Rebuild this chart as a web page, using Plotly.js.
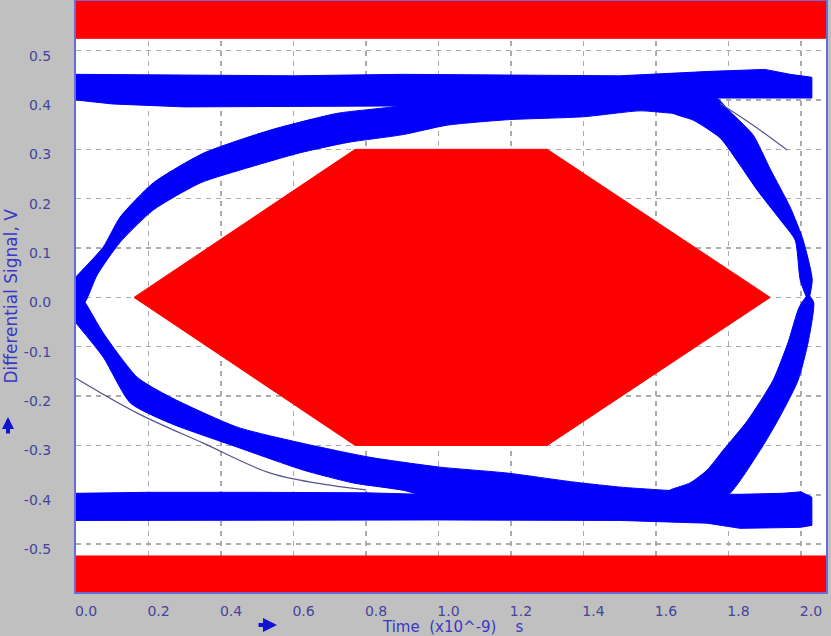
<!DOCTYPE html>
<html>
<head>
<meta charset="utf-8">
<script src="https://cdn.plot.ly/plotly-3.0.1.min.js"></script>
<style>html,body{margin:0;padding:0;background:#c0c0c0;}#chart{width:831px;height:636px;}</style>
</head>
<body>
<div id="chart"></div>
<script>
// ---- Axis ticks ----
const xTickVals = [0, 0.2, 0.4, 0.6, 0.8, 1.0, 1.2, 1.4, 1.6, 1.8, 2.0];
const xTickText = ["0.0", "0.2", "0.4", "0.6", "0.8", "1.0", "1.2", "1.4", "1.6", "1.8", "2.0"];
const yTickVals = [-0.5, -0.4, -0.3, -0.2, -0.1, 0, 0.1, 0.2, 0.3, 0.4, 0.5];
const yTickText = ["-0.5", "-0.4", "-0.3", "-0.2", "-0.1", "0.0", "0.1", "0.2", "0.3", "0.4", "0.5"];

// ---- Mask regions (red) ----
const maskTopX = [0, 2.07, 2.07, 0];
const maskTopY = [0.525, 0.525, 0.61, 0.61];
const maskBotX = [0, 2.07, 2.07, 0];
const maskBotY = [-0.524, -0.524, -0.61, -0.61];
const maskHexX = [0.16, 0.77, 1.30, 1.915, 1.30, 0.77, 0.16];
const maskHexY = [0, 0.3, 0.3, 0, -0.3, -0.3, 0];

// ---- Eye diagram trace envelopes (blue) ----
const topBandX = [0, 0.3, 0.6, 0.9, 1.2, 1.5, 1.75, 1.9, 1.97, 2.03, 2.03, 1.9, 1.77, 1.5, 1.2, 0.9, 0.6, 0.3, 0.1, 0];
const topBandY = [0.452, 0.450, 0.449, 0.452, 0.451, 0.449, 0.458, 0.462, 0.452, 0.446, 0.404, 0.404, 0.404, 0.395, 0.392, 0.388, 0.387, 0.386, 0.392, 0.400];

const riseLeftX = [0, 0.075, 0.122, 0.213, 0.351, 0.536, 0.721, 0.903, 1.0, 1.3, 1.70, 1.70, 1.647, 1.556, 1.4, 1.19, 1.024, 0.903, 0.75, 0.618, 0.48, 0.343, 0.213, 0.122, 0.058, 0.025, 0];
const riseLeftY = [0.042, 0.102, 0.163, 0.232, 0.292, 0.339, 0.373, 0.390, 0.42, 0.42, 0.42, 0.372, 0.373, 0.378, 0.366, 0.360, 0.349, 0.330, 0.314, 0.293, 0.264, 0.232, 0.177, 0.112, 0.045, -0.01, -0.025];

const fallLeftX = [0, 0.025, 0.075, 0.169, 0.26, 0.445, 0.627, 0.811, 1.005, 1.19, 1.371, 1.51, 1.631, 1.70, 1.70, 1.3, 1.0, 0.903, 0.765, 0.627, 0.445, 0.26, 0.15, 0.075, 0];
const fallLeftY = [0.015, -0.01, -0.072, -0.162, -0.202, -0.263, -0.296, -0.324, -0.344, -0.356, -0.374, -0.385, -0.391, -0.395, -0.42, -0.42, -0.41, -0.391, -0.376, -0.35, -0.3035, -0.255, -0.214, -0.121, -0.052];

const bottomBandX = [0, 0.2, 0.5, 0.8, 1.0, 1.3, 1.6, 1.832, 1.95, 2.0, 2.03, 2.03, 1.998, 1.832, 1.741, 1.5, 1.0, 0.5, 0];
const bottomBandY = [-0.397, -0.395, -0.395, -0.396, -0.40, -0.40, -0.40, -0.399, -0.397, -0.394, -0.405, -0.462, -0.466, -0.468, -0.4575, -0.452, -0.451, -0.452, -0.452];

const fallRightX = [1.60, 1.647, 1.703, 1.777, 1.832, 1.879, 1.943, 1.984, 1.998, 2.02, 2.031, 2.006, 1.970, 1.915, 1.868, 1.805, 1.75, 1.60];
const fallRightY = [0.40, 0.373, 0.359, 0.323, 0.268, 0.2175, 0.157, 0.116, 0.035, -0.005, 0.035, 0.116, 0.183, 0.26, 0.329, 0.376, 0.415, 0.415];

const riseRightX = [1.60, 1.64, 1.694, 1.741, 1.785, 1.852, 1.923, 1.965, 1.995, 2.02, 2.035, 2.02, 1.992, 1.943, 1.887, 1.785, 1.60];
const riseRightY = [-0.41, -0.39, -0.376, -0.350, -0.310, -0.250, -0.168, -0.09, -0.02, 0.005, -0.01, -0.09, -0.168, -0.24, -0.31, -0.41, -0.42];

// ---- Stray single traces ----
const strayLeftX = [0, 0.169, 0.351, 0.536, 0.701, 0.80];
const strayLeftY = [-0.164, -0.2345, -0.2954, -0.356, -0.3805, -0.39];
const strayRightX = [1.777, 1.868, 1.962];
const strayRightY = [0.393, 0.349, 0.2986];

const RED = '#ff0000';
const BLUE = '#0000fb';

function poly(x, y, color, smooth) {
  return {
    x: x, y: y, type: 'scatter', mode: 'lines', fill: 'toself',
    fillcolor: color,
    line: smooth ? {color: color, width: 1, shape: 'spline', smoothing: 0.6} : {color: color, width: 1},
    hoverinfo: 'skip'
  };
}
function stray(x, y) {
  return {x: x, y: y, type: 'scatter', mode: 'lines',
    line: {color: '#55558f', width: 1.2, shape: 'spline'}, hoverinfo: 'skip'};
}

const traces = [
  poly(maskTopX, maskTopY, RED),
  poly(maskBotX, maskBotY, RED),
  poly(maskHexX, maskHexY, RED),
  poly(riseLeftX, riseLeftY, BLUE, true),
  poly(fallLeftX, fallLeftY, BLUE, true),
  poly(fallRightX, fallRightY, BLUE, true),
  poly(riseRightX, riseRightY, BLUE, true),
  poly(topBandX, topBandY, BLUE),
  poly(bottomBandX, bottomBandY, BLUE),
  stray(strayLeftX, strayLeftY),
  stray(strayRightX, strayRightY)
];

const tickFont = {family: 'DejaVu Sans, Verdana, sans-serif', size: 14, color: '#44449c'};
const axisCommon = {
  tickmode: 'array', showgrid: true, gridcolor: '#ababab', gridwidth: 1.5,
  griddash: '5px,5px', zeroline: false, showline: true, mirror: true,
  linecolor: '#6b6bd6', linewidth: 2, ticks: '', tickfont: tickFont, fixedrange: true
};

const layout = {
  width: 831, height: 636,
  margin: {l: 76, r: 5, t: 1, b: 44},
  paper_bgcolor: '#c0c0c0', plot_bgcolor: '#ffffff',
  showlegend: false, hovermode: false,
  xaxis: Object.assign({}, axisCommon, {
    range: [0, 2.069], tickvals: xTickVals, ticktext: xTickText,
    ticklabelshift: 10, ticklabelstandoff: 5
  }),
  yaxis: Object.assign({}, axisCommon, {
    range: [-0.597, 0.6006], tickvals: yTickVals, ticktext: yTickText,
    ticklabelshift: 5, ticklabelstandoff: 20
  }),
  annotations: [
    {text: 'Differential Signal, V', xref: 'paper', yref: 'paper', x: -0.088, y: 0.5,
     xanchor: 'center', yanchor: 'middle', textangle: -90, showarrow: false,
     font: {family: 'DejaVu Sans, Verdana, sans-serif', size: 17, color: '#3838c4'}},
    {text: 'Time\u00a0\u00a0(x10^-9)\u00a0\u00a0\u00a0\u00a0s', xref: 'paper', yref: 'paper', x: 0.503, y: (592 - 627) / 591,
     xanchor: 'center', yanchor: 'middle', showarrow: false,
     font: {family: 'DejaVu Sans, Verdana, sans-serif', size: 15, color: '#3838c4'}},
    {text: '', xref: 'paper', yref: 'paper', x: (8 - 76) / 750, y: (592 - 417) / 591,
     ax: 0, ay: 18, showarrow: true, arrowhead: 2, arrowsize: 0.6, arrowwidth: 4, arrowcolor: '#1212d2'},
    {text: '', xref: 'paper', yref: 'paper', x: (277 - 76) / 750, y: (592 - 625) / 591,
     ax: -20, ay: 0, showarrow: true, arrowhead: 2, arrowsize: 0.7, arrowwidth: 4, arrowcolor: '#1212d2'}
  ]
};

Plotly.newPlot('chart', traces, layout, {displayModeBar: false, staticPlot: true});
</script>
</body>
</html>
